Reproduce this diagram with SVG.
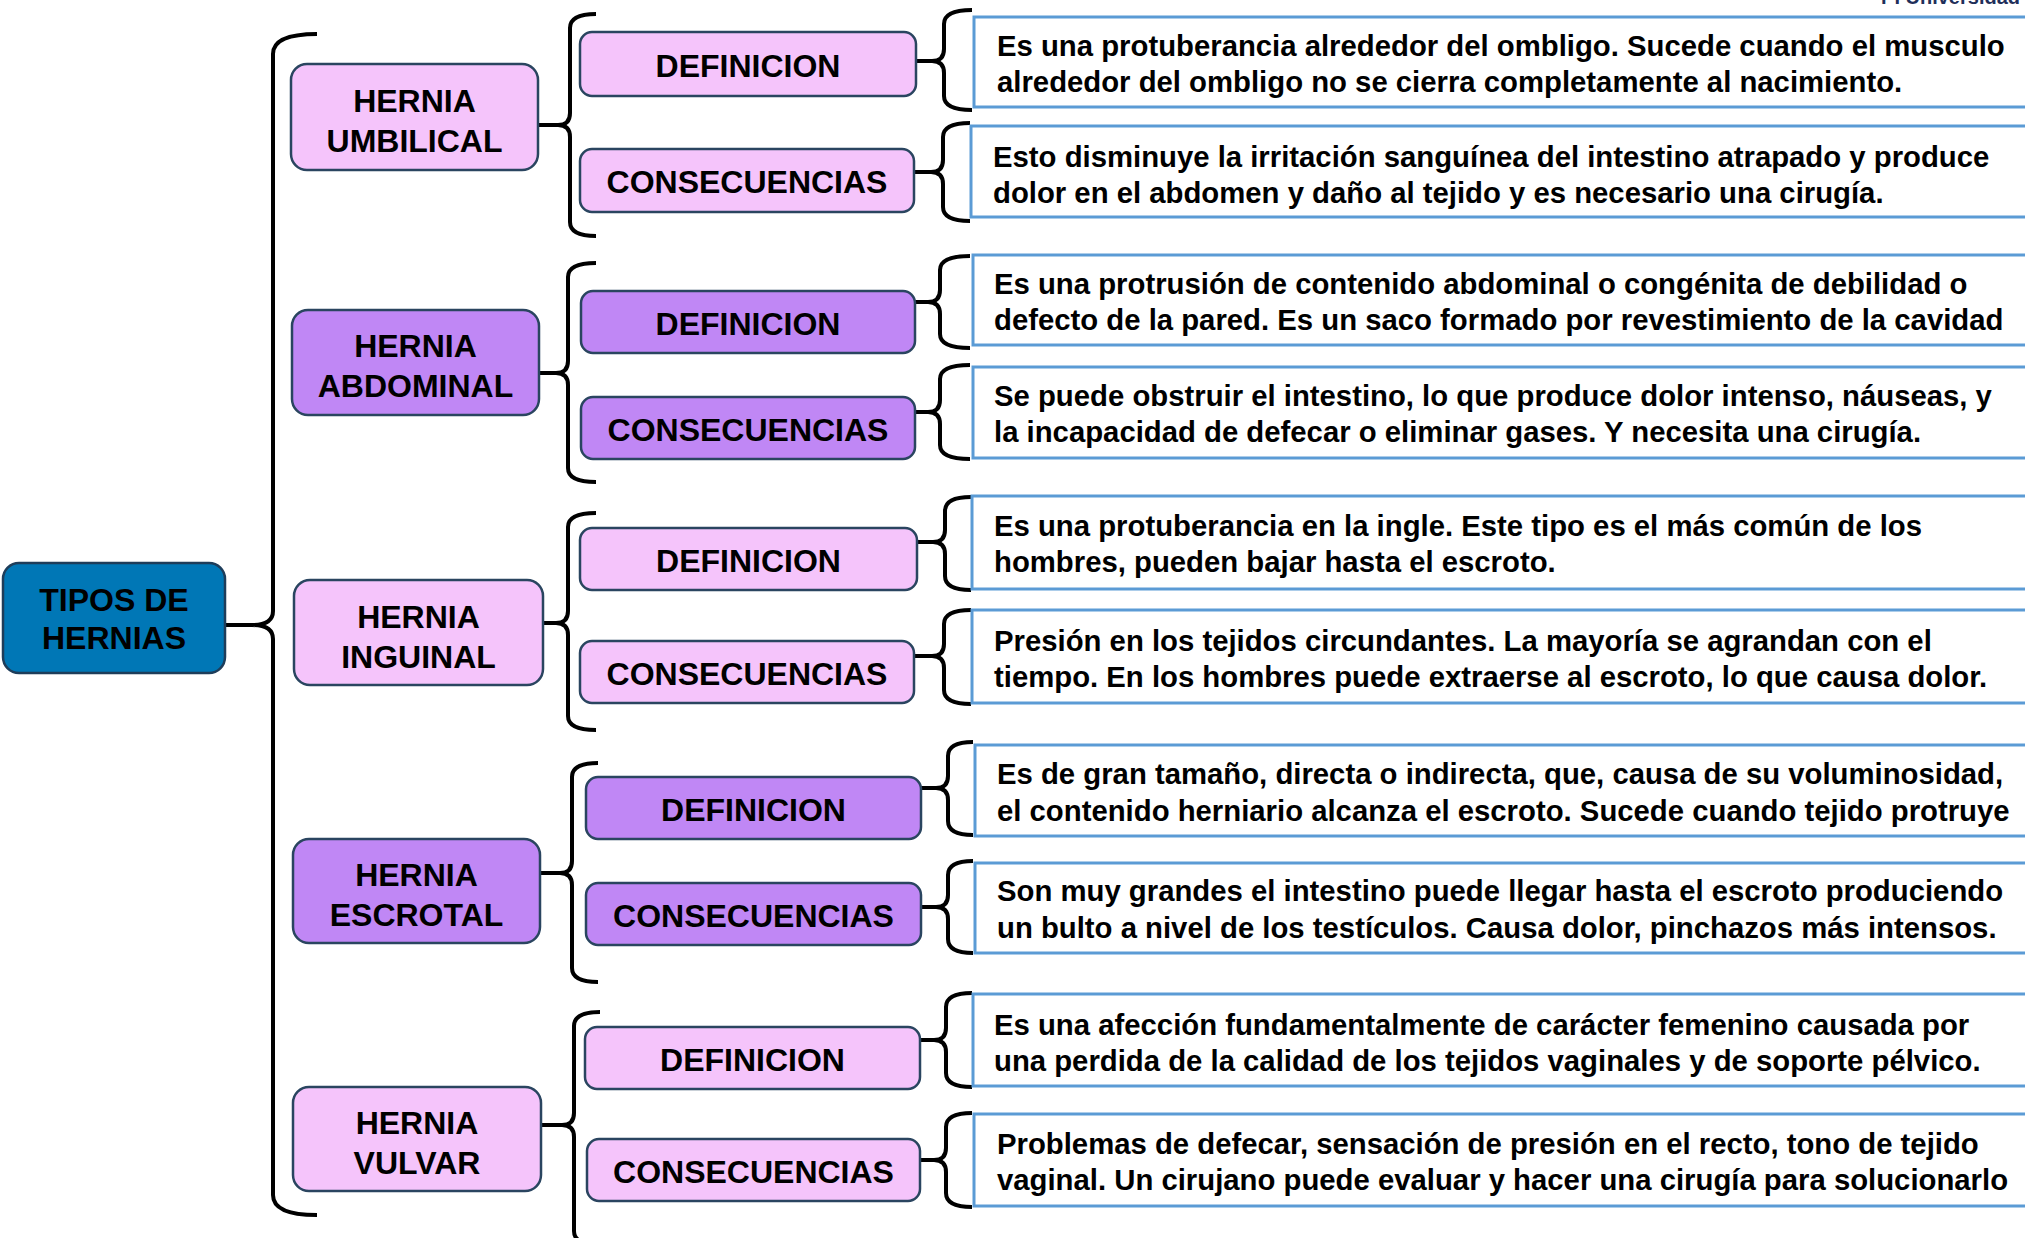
<svg xmlns="http://www.w3.org/2000/svg" width="2025" height="1238" viewBox="0 0 2025 1238">
<style>
.pink{fill:#F5C4FB;stroke:#2A4560;stroke-width:2.5}
.purple{fill:#C087F5;stroke:#2A4560;stroke-width:2.5}
.root{fill:#0077B6;stroke:#1E3D5A;stroke-width:2.5}
.tbox{fill:#FFFFFF;stroke:#5B9BD5;stroke-width:3}
.lbl{font-family:"Liberation Sans",Arial,sans-serif;font-weight:bold;font-size:32px;text-anchor:middle;fill:#000}
.txt{font-family:"Liberation Sans",Arial,sans-serif;font-weight:bold;font-size:29.3px;fill:#000}
.brace{fill:none;stroke:#000;stroke-width:4}
</style>
<rect width="2025" height="1238" fill="#FFFFFF"/>
<text x="2020" y="4" class="txt" style="font-size:20px;text-anchor:end;fill:#1F2F5A">PI Universidad</text>
<g id="connectors">
<path class="brace" d="M317,34 Q273,34 273,54 L273,611 Q273,625 252,625 L226,625 M252,625 Q273,625 273,639 L273,1195 Q273,1215 317,1215"/>
<path class="brace" d="M596,14 Q570,14 570,28 L570,113 Q570,125 558,125 L539,125 M558,125 Q570,125 570,137 L570,222 Q570,236 596,236"/>
<path class="brace" d="M972,10 Q944,10 944,24 L944,49 Q944,61 932,61 L917,61 M932,61 Q944,61 944,73 L944,96 Q944,110 972,110"/>
<path class="brace" d="M970,123 Q943,123 943,137 L943,160 Q943,172 931,172 L915,172 M931,172 Q943,172 943,184 L943,207 Q943,221 970,221"/>
<path class="brace" d="M596,263 Q568,263 568,277 L568,361 Q568,373 556,373 L539,373 M556,373 Q568,373 568,385 L568,468 Q568,482 596,482"/>
<path class="brace" d="M970,256 Q940,256 940,270 L940,290 Q940,302 928,302 L915,302 M928,302 Q940,302 940,314 L940,334 Q940,348 970,348"/>
<path class="brace" d="M970,365 Q940,365 940,379 L940,400 Q940,412 928,412 L915,412 M928,412 Q940,412 940,424 L940,445 Q940,459 970,459"/>
<path class="brace" d="M596,513 Q568,513 568,527 L568,611 Q568,623 556,623 L543,623 M556,623 Q568,623 568,635 L568,716 Q568,730 596,730"/>
<path class="brace" d="M971,497 Q945,497 945,511 L945,530 Q945,542 933,542 L917,542 M933,542 Q945,542 945,554 L945,576 Q945,590 971,590"/>
<path class="brace" d="M971,610 Q944,610 944,624 L944,644 Q944,656 932,656 L914,656 M932,656 Q944,656 944,668 L944,690 Q944,704 971,704"/>
<path class="brace" d="M598,763 Q572,763 572,777 L572,861 Q572,873 560,873 L540,873 M560,873 Q572,873 572,885 L572,968 Q572,982 598,982"/>
<path class="brace" d="M973,742 Q948,742 948,756 L948,776 Q948,788 936,788 L921,788 M936,788 Q948,788 948,800 L948,821 Q948,835 973,835"/>
<path class="brace" d="M973,861 Q948,861 948,875 L948,895 Q948,907 936,907 L921,907 M936,907 Q948,907 948,919 L948,939 Q948,953 973,953"/>
<path class="brace" d="M600,1012 Q574,1012 574,1026 L574,1113 Q574,1125 562,1125 L541,1125 M562,1125 Q574,1125 574,1137 L574,1231 Q574,1245 600,1245"/>
<path class="brace" d="M972,993 Q946,993 946,1007 L946,1028 Q946,1040 934,1040 L920,1040 M934,1040 Q946,1040 946,1052 L946,1073 Q946,1087 972,1087"/>
<path class="brace" d="M972,1113 Q946,1113 946,1127 L946,1148 Q946,1160 934,1160 L920,1160 M934,1160 Q946,1160 946,1172 L946,1193 Q946,1207 972,1207"/>
</g>
<g id="root">
<rect class="root" x="3" y="563" width="222" height="110" rx="16"/>
<text class="lbl" x="114" y="611">TIPOS DE</text>
<text class="lbl" x="114" y="649">HERNIAS</text>
</g>
<g id="umbilical">
<rect class="pink" x="291" y="64" width="247" height="106" rx="16"/>
<text class="lbl" x="414.5" y="112">HERNIA</text>
<text class="lbl" x="414.5" y="152">UMBILICAL</text>
</g>
<g id="umbilical-def">
<rect class="pink" x="580" y="32" width="336" height="64" rx="12"/>
<text class="lbl" x="748" y="77">DEFINICION</text>
</g>
<g id="umbilical-cons">
<rect class="pink" x="580" y="149" width="334" height="63" rx="12"/>
<text class="lbl" x="747" y="193">CONSECUENCIAS</text>
</g>
<g id="umbilical-def-text">
<rect class="tbox" x="974" y="17" width="1070" height="90"/>
<text class="txt" x="997" y="56">Es una protuberancia alrededor del ombligo. Sucede cuando el musculo</text>
<text class="txt" x="997" y="92">alrededor del ombligo no se cierra completamente al nacimiento.</text>
</g>
<g id="umbilical-cons-text">
<rect class="tbox" x="971" y="126" width="1070" height="91"/>
<text class="txt" x="993" y="167">Esto disminuye la irritación sanguínea del intestino atrapado y produce</text>
<text class="txt" x="993" y="203">dolor en el abdomen y daño al tejido y es necesario una cirugía.</text>
</g>
<g id="abdominal">
<rect class="purple" x="292" y="310" width="247" height="105" rx="16"/>
<text class="lbl" x="415.5" y="357">HERNIA</text>
<text class="lbl" x="415.5" y="397">ABDOMINAL</text>
</g>
<g id="abdominal-def">
<rect class="purple" x="581" y="291" width="334" height="62" rx="12"/>
<text class="lbl" x="748" y="335">DEFINICION</text>
</g>
<g id="abdominal-cons">
<rect class="purple" x="581" y="397" width="334" height="62" rx="12"/>
<text class="lbl" x="748" y="441">CONSECUENCIAS</text>
</g>
<g id="abdominal-def-text">
<rect class="tbox" x="973" y="255" width="1070" height="90"/>
<text class="txt" x="994" y="294">Es una protrusión de contenido abdominal o congénita de debilidad o</text>
<text class="txt" x="994" y="330">defecto de la pared. Es un saco formado por revestimiento de la cavidad</text>
</g>
<g id="abdominal-cons-text">
<rect class="tbox" x="973" y="367" width="1070" height="91"/>
<text class="txt" x="994" y="406">Se puede obstruir el intestino, lo que produce dolor intenso, náuseas, y</text>
<text class="txt" x="994" y="442">la incapacidad de defecar o eliminar gases. Y necesita una cirugía.</text>
</g>
<g id="inguinal">
<rect class="pink" x="294" y="580" width="249" height="105" rx="16"/>
<text class="lbl" x="418.5" y="628">HERNIA</text>
<text class="lbl" x="418.5" y="668">INGUINAL</text>
</g>
<g id="inguinal-def">
<rect class="pink" x="580" y="528" width="337" height="62" rx="12"/>
<text class="lbl" x="748.5" y="572">DEFINICION</text>
</g>
<g id="inguinal-cons">
<rect class="pink" x="580" y="641" width="334" height="62" rx="12"/>
<text class="lbl" x="747" y="685">CONSECUENCIAS</text>
</g>
<g id="inguinal-def-text">
<rect class="tbox" x="972" y="496" width="1070" height="93"/>
<text class="txt" x="994" y="536">Es una protuberancia en la ingle. Este tipo es el más común de los</text>
<text class="txt" x="994" y="572">hombres, pueden bajar hasta el escroto.</text>
</g>
<g id="inguinal-cons-text">
<rect class="tbox" x="972" y="610" width="1070" height="93"/>
<text class="txt" x="994" y="651">Presión en los tejidos circundantes. La mayoría se agrandan con el</text>
<text class="txt" x="994" y="687">tiempo. En los hombres puede extraerse al escroto, lo que causa dolor.</text>
</g>
<g id="escrotal">
<rect class="purple" x="293" y="839" width="247" height="104" rx="16"/>
<text class="lbl" x="416.5" y="886">HERNIA</text>
<text class="lbl" x="416.5" y="926">ESCROTAL</text>
</g>
<g id="escrotal-def">
<rect class="purple" x="586" y="777" width="335" height="62" rx="12"/>
<text class="lbl" x="753.5" y="821">DEFINICION</text>
</g>
<g id="escrotal-cons">
<rect class="purple" x="586" y="883" width="335" height="62" rx="12"/>
<text class="lbl" x="753.5" y="927">CONSECUENCIAS</text>
</g>
<g id="escrotal-def-text">
<rect class="tbox" x="975" y="745" width="1070" height="91"/>
<text class="txt" x="997" y="784">Es de gran tamaño, directa o indirecta, que, causa de su voluminosidad,</text>
<text class="txt" x="997" y="821">el contenido herniario alcanza el escroto. Sucede cuando tejido protruye</text>
</g>
<g id="escrotal-cons-text">
<rect class="tbox" x="975" y="863" width="1070" height="90"/>
<text class="txt" x="997" y="901">Son muy grandes el intestino puede llegar hasta el escroto produciendo</text>
<text class="txt" x="997" y="938">un bulto a nivel de los testículos. Causa dolor, pinchazos más intensos.</text>
</g>
<g id="vulvar">
<rect class="pink" x="293" y="1087" width="248" height="104" rx="16"/>
<text class="lbl" x="417" y="1134">HERNIA</text>
<text class="lbl" x="417" y="1174">VULVAR</text>
</g>
<g id="vulvar-def">
<rect class="pink" x="585" y="1027" width="335" height="62" rx="12"/>
<text class="lbl" x="752.5" y="1071">DEFINICION</text>
</g>
<g id="vulvar-cons">
<rect class="pink" x="587" y="1139" width="333" height="62" rx="12"/>
<text class="lbl" x="753.5" y="1183">CONSECUENCIAS</text>
</g>
<g id="vulvar-def-text">
<rect class="tbox" x="973" y="994" width="1070" height="92"/>
<text class="txt" x="994" y="1035">Es una afección fundamentalmente de carácter femenino causada por</text>
<text class="txt" x="994" y="1071">una perdida de la calidad de los tejidos vaginales y de soporte pélvico.</text>
</g>
<g id="vulvar-cons-text">
<rect class="tbox" x="974" y="1114" width="1070" height="92"/>
<text class="txt" x="997" y="1154">Problemas de defecar, sensación de presión en el recto, tono de tejido</text>
<text class="txt" x="997" y="1190">vaginal. Un cirujano puede evaluar y hacer una cirugía para solucionarlo</text>
</g>
</svg>
